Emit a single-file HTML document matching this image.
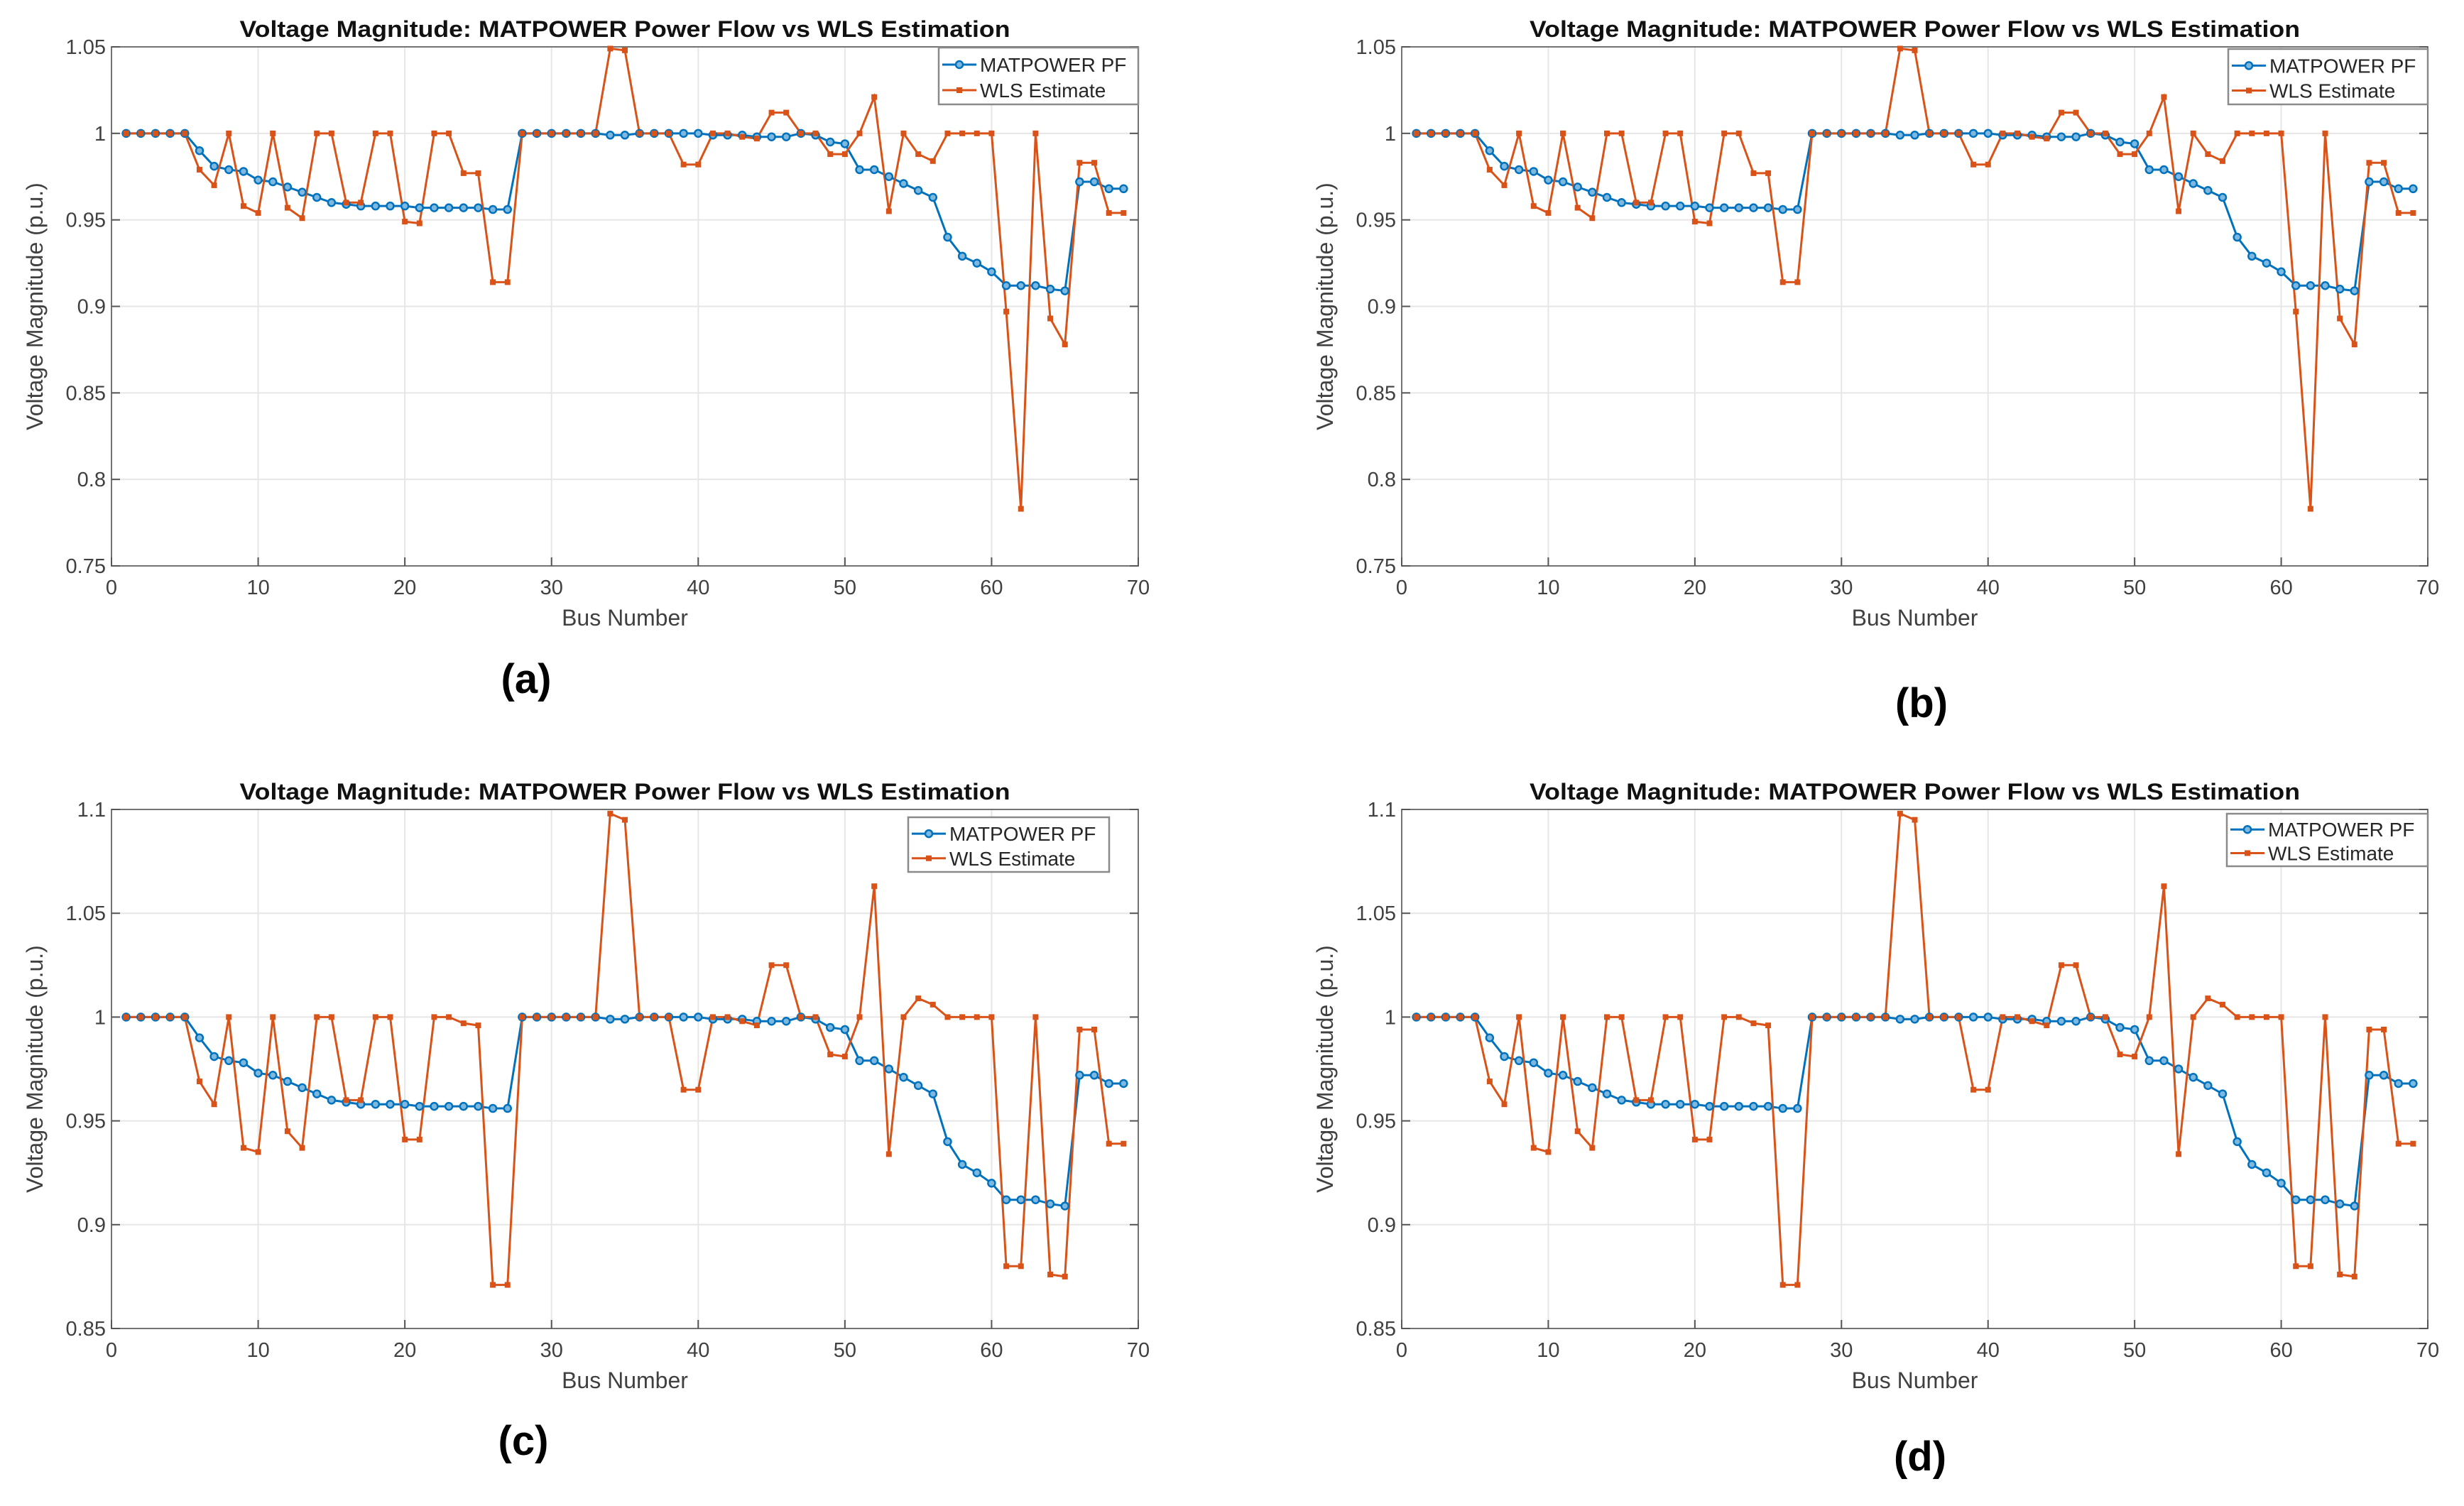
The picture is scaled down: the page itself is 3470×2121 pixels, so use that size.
<!DOCTYPE html>
<html><head><meta charset="utf-8">
<style>
html,body{margin:0;padding:0;background:#fff;}
svg{display:block;}
text{font-family:"Liberation Sans",Arial,sans-serif;}
</style></head>
<body>
<svg id="fig" width="3470" height="2121" viewBox="0 0 3470 2121" xmlns="http://www.w3.org/2000/svg"></svg>
<script>
const buses = Array.from({length:69},(_,i)=>i+1);
const pfValues = [1.0,1.0,1.0,1.0,1.0,0.990,0.981,0.979,0.978,0.973,0.972,0.969,0.966,0.963,0.960,0.959,0.958,0.958,0.958,0.958,0.957,0.957,0.957,0.957,0.957,0.956,0.956,1.0,1.0,1.0,1.0,1.0,1.0,0.999,0.999,1.0,1.0,1.0,1.0,1.0,0.999,0.999,0.999,0.998,0.998,0.998,1.0,0.999,0.995,0.994,0.979,0.979,0.975,0.971,0.967,0.963,0.940,0.929,0.925,0.920,0.912,0.912,0.912,0.910,0.909,0.972,0.972,0.968,0.968];
const wlsA = [1.0,1.0,1.0,1.0,1.0,0.979,0.970,1.0,0.958,0.954,1.0,0.957,0.951,1.0,1.0,0.960,0.960,1.0,1.0,0.949,0.948,1.0,1.0,0.977,0.977,0.914,0.914,1.0,1.0,1.0,1.0,1.0,1.0,1.049,1.048,1.0,1.0,1.0,0.982,0.982,1.0,1.0,0.998,0.997,1.012,1.012,1.0,1.0,0.988,0.988,1.0,1.021,0.955,1.0,0.988,0.984,1.0,1.0,1.0,1.0,0.897,0.783,1.0,0.893,0.878,0.983,0.983,0.954,0.954];
const wlsC = [1.0,1.0,1.0,1.0,1.0,0.969,0.958,1.0,0.937,0.935,1.0,0.945,0.937,1.0,1.0,0.960,0.960,1.0,1.0,0.941,0.941,1.0,1.0,0.997,0.996,0.871,0.871,1.0,1.0,1.0,1.0,1.0,1.0,1.098,1.095,1.0,1.0,1.0,0.965,0.965,1.0,1.0,0.998,0.996,1.025,1.025,1.0,1.0,0.982,0.981,1.0,1.063,0.934,1.0,1.009,1.006,1.0,1.0,1.0,1.0,0.880,0.880,1.0,0.876,0.875,0.994,0.994,0.939,0.939];
const xTicks = [0,10,20,30,40,50,60,70];
const yTicksAB = [0.75,0.8,0.85,0.9,0.95,1,1.05];
const yTickLabelsAB = ["0.75","0.8","0.85","0.9","0.95","1","1.05"];
const yTicksCD = [0.85,0.9,0.95,1,1.05,1.1];
const yTickLabelsCD = ["0.85","0.9","0.95","1","1.05","1.1"];

const NS="http://www.w3.org/2000/svg";
const svg=document.getElementById('fig');
function mk(tag,attrs,parent){const e=document.createElementNS(NS,tag);for(const k in attrs)e.setAttribute(k,attrs[k]);(parent||svg).appendChild(e);return e;}

const BLUE="#0072BD", ORANGE="#D95319";

function panel(id,L,R,T,B,ymin,ymax,yt,ytl,wls,leg,lab){
  const g=mk('g',{});
  
  
  const sx=v=>L+(v-0)/(70-0)*(R-L);
  const sy=v=>B-(v-ymin)/(ymax-ymin)*(B-T);
  // title
  const t=mk('text',{x:(L+R)/2,y:T-14,'text-anchor':'middle','font-size':32,'font-weight':'bold',fill:'#111',textLength:1085,lengthAdjust:'spacingAndGlyphs'},g);
  t.textContent="Voltage Magnitude: MATPOWER Power Flow vs WLS Estimation";
  
  
  // grid
  xTicks.forEach(v=>{const l=mk('line',{x1:sx(v),x2:sx(v),y1:T,y2:B,stroke:'#e6e6e6','stroke-width':2},g);
    });
  yt.forEach(v=>{const l=mk('line',{x1:L,x2:R,y1:sy(v),y2:sy(v),stroke:'#e6e6e6','stroke-width':2},g);
    });
  // axes box
  const box=mk('rect',{x:L,y:T,width:R-L,height:B-T,fill:'none',stroke:'#262626','stroke-width':2,'stroke-opacity':0.6},g);
  
  // ticks
  xTicks.forEach(v=>{
    mk('line',{x1:sx(v),x2:sx(v),y1:B,y2:B-12,stroke:'#555','stroke-width':2},g);
    const tx=mk('text',{x:sx(v),y:B+40,'text-anchor':'middle','font-size':29,fill:'#404040'},g);
    tx.textContent=v;
    
  });
  yt.forEach((v,i)=>{
    mk('line',{x1:L,x2:L+12,y1:sy(v),y2:sy(v),stroke:'#555','stroke-width':2},g);
    mk('line',{x1:R,x2:R-12,y1:sy(v),y2:sy(v),stroke:'#555','stroke-width':2},g);
    const ty=mk('text',{x:L-8,y:sy(v)+10,'text-anchor':'end','font-size':29,fill:'#404040'},g);
    ty.textContent=ytl[i];
    
  });
  const xl=mk('text',{x:(L+R)/2,y:B+84,'text-anchor':'middle','font-size':32,fill:'#404040'},g);
  xl.textContent="Bus Number";
  
  const yl=mk('text',{x:0,y:0,'text-anchor':'middle','font-size':32,fill:'#404040',transform:`translate(${L-97},${(T+B)/2}) rotate(-90)`},g);
  yl.textContent="Voltage Magnitude (p.u.)";
  
  // series
  const pfPts=buses.map((b,i)=>sx(b)+','+sy(pfValues[i])).join(' ');
  const pl=mk('polyline',{points:pfPts,fill:'none',stroke:BLUE,'stroke-width':3},g);
  
  const wPts=buses.map((b,i)=>sx(b)+','+sy(wls[i])).join(' ');
  const wl=mk('polyline',{points:wPts,fill:'none',stroke:ORANGE,'stroke-width':3},g);
  
  buses.forEach((b,i)=>{
    const c=mk('circle',{cx:sx(b),cy:sy(pfValues[i]),r:5,fill:'#7fb8de',stroke:BLUE,'stroke-width':2.5},g);
    
    const s=mk('rect',{x:sx(b)-4,y:sy(wls[i])-4,width:8,height:8,fill:ORANGE},g);
    
  });
  // legend
  const lg=mk('g',{},g);
  
  mk('rect',{x:leg[0],y:leg[1],width:leg[2],height:leg[3],fill:'#fff',stroke:'#8a8a8a','stroke-width':2.5},lg);
  const r1=leg[1]+leg[3]*0.3, r2=leg[1]+leg[3]*0.75;
  const e1=mk('g',{},lg);
  mk('line',{x1:leg[0]+5,x2:leg[0]+53,y1:r1,y2:r1,stroke:BLUE,'stroke-width':3},e1);
  mk('circle',{cx:leg[0]+29,cy:r1,r:5,fill:'#7fb8de',stroke:BLUE,'stroke-width':2.5},e1);
  const lt1=mk('text',{x:leg[0]+58,y:r1+10,'font-size':28,fill:'#262626'},e1);lt1.textContent="MATPOWER PF";
  const e2=mk('g',{},lg);
  mk('line',{x1:leg[0]+5,x2:leg[0]+53,y1:r2,y2:r2,stroke:ORANGE,'stroke-width':3},e2);
  mk('rect',{x:leg[0]+25,y:r2-4,width:8,height:8,fill:ORANGE},e2);
  const lt2=mk('text',{x:leg[0]+58,y:r2+10,'font-size':28,fill:'#262626'},e2);lt2.textContent="WLS Estimate";
  // label
  const pl2=mk('text',{x:lab[0],y:lab[1]+20,'text-anchor':'middle','font-size':58,'font-weight':'bold',fill:'#000'},svg);
  pl2.textContent='('+id+')';
  
}
panel('a',157,1603,66,797,0.75,1.05,yTicksAB,yTickLabelsAB,wlsA,[1322,67,281,80],[741,956]);
panel('b',1974,3419,66,797,0.75,1.05,yTicksAB,yTickLabelsAB,wlsA,[3138,69,281,78],[2706,990]);
panel('c',157,1603,1140,1871,0.85,1.1,yTicksCD,yTickLabelsCD,wlsC,[1279,1151,283,77],[737,2029]);
panel('d',1974,3419,1140,1871,0.85,1.1,yTicksCD,yTickLabelsCD,wlsC,[3136,1146,283,74],[2704,2051]);
</script>
</body></html>
